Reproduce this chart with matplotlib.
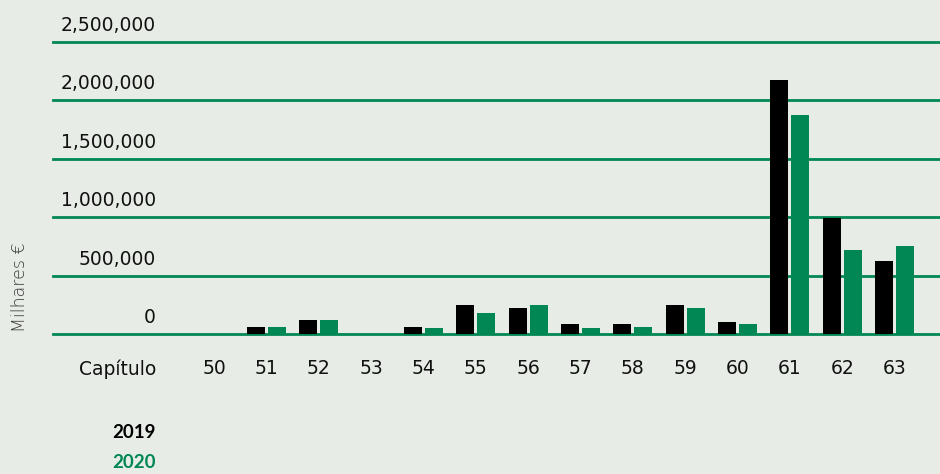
import matplotlib.pyplot as plt
import matplotlib.transforms as mtransforms
import numpy as np

chapters = ["50", "51", "52", "53", "54", "55", "56", "57", "58", "59", "60", "61", "62", "63"]
v2019 = [0, 63000, 122000, 0, 63000, 251000, 225000, 88000, 88000, 251000, 105000, 2175000, 993000, 625000]
v2020 = [0, 63000, 122000, 0, 54000, 183000, 251000, 54000, 63000, 225000, 88000, 1875000, 719000, 753000]
yticks = [0, 500000, 1000000, 1500000, 2000000, 2500000]

bg = "#e7ece6"
green = "#008753"
black = "#000000"

plt.rcParams['font.family'] = ['DejaVu Sans']

W, H = 940, 474
fig = plt.figure(figsize=(W / 100, H / 100), dpi=100, facecolor=bg)
ax = fig.add_axes([53 / W, (H - 334) / H, 1 - 53 / W, (334 - 39.7) / H])
ax.set_facecolor(bg)

x = np.arange(len(chapters))
bw = 0.344
ax.bar(x - 0.2, v2019, bw, color=black, zorder=3)
ax.bar(x + 0.2, v2020, bw, color=green, zorder=3)

ax.set_xlim(-3.08, 13.87)
ax.set_ylim(0, 2520000)

for t in yticks:
    ax.axhline(t, color=green, lw=2, zorder=2, clip_on=False)

for s in ax.spines.values():
    s.set_visible(False)
ax.set_yticks([])
ax.set_xticks(x, chapters)
ax.tick_params(axis='x', length=0, pad=18, labelsize=13.5, labelcolor='#111111')

# y labels sit above their gridlines, right-aligned
tr = mtransforms.blended_transform_factory(fig.transFigure, ax.transData)
tr = tr + mtransforms.ScaledTranslation(0, 16.5 / 100, fig.dpi_scale_trans)
for t in yticks:
    ax.text(156 / W, t, f"{t:,}", transform=tr, ha='right', va='center',
            fontsize=13.5, color='#111111')

fig.text(156 / W, 1 - 369 / H, "Capítulo", ha='right', va='center',
         fontsize=13.5, color='#111111')
fig.text(20 / W, 1 - 287 / H, "Milhares €", rotation=90, ha='center', va='center',
         fontsize=12.5, fontweight='light', color='#3a3a3a')
fig.text(156 / W, 1 - 433 / H, "2019", ha='right', va='center',
         fontsize=13.5, fontweight='bold', color=black, family='Lato')
fig.text(156 / W, 1 - 463 / H, "2020", ha='right', va='center',
         fontsize=13.5, fontweight='bold', color=green, family='Lato')

fig.savefig("out.png", dpi=100, facecolor=bg)
